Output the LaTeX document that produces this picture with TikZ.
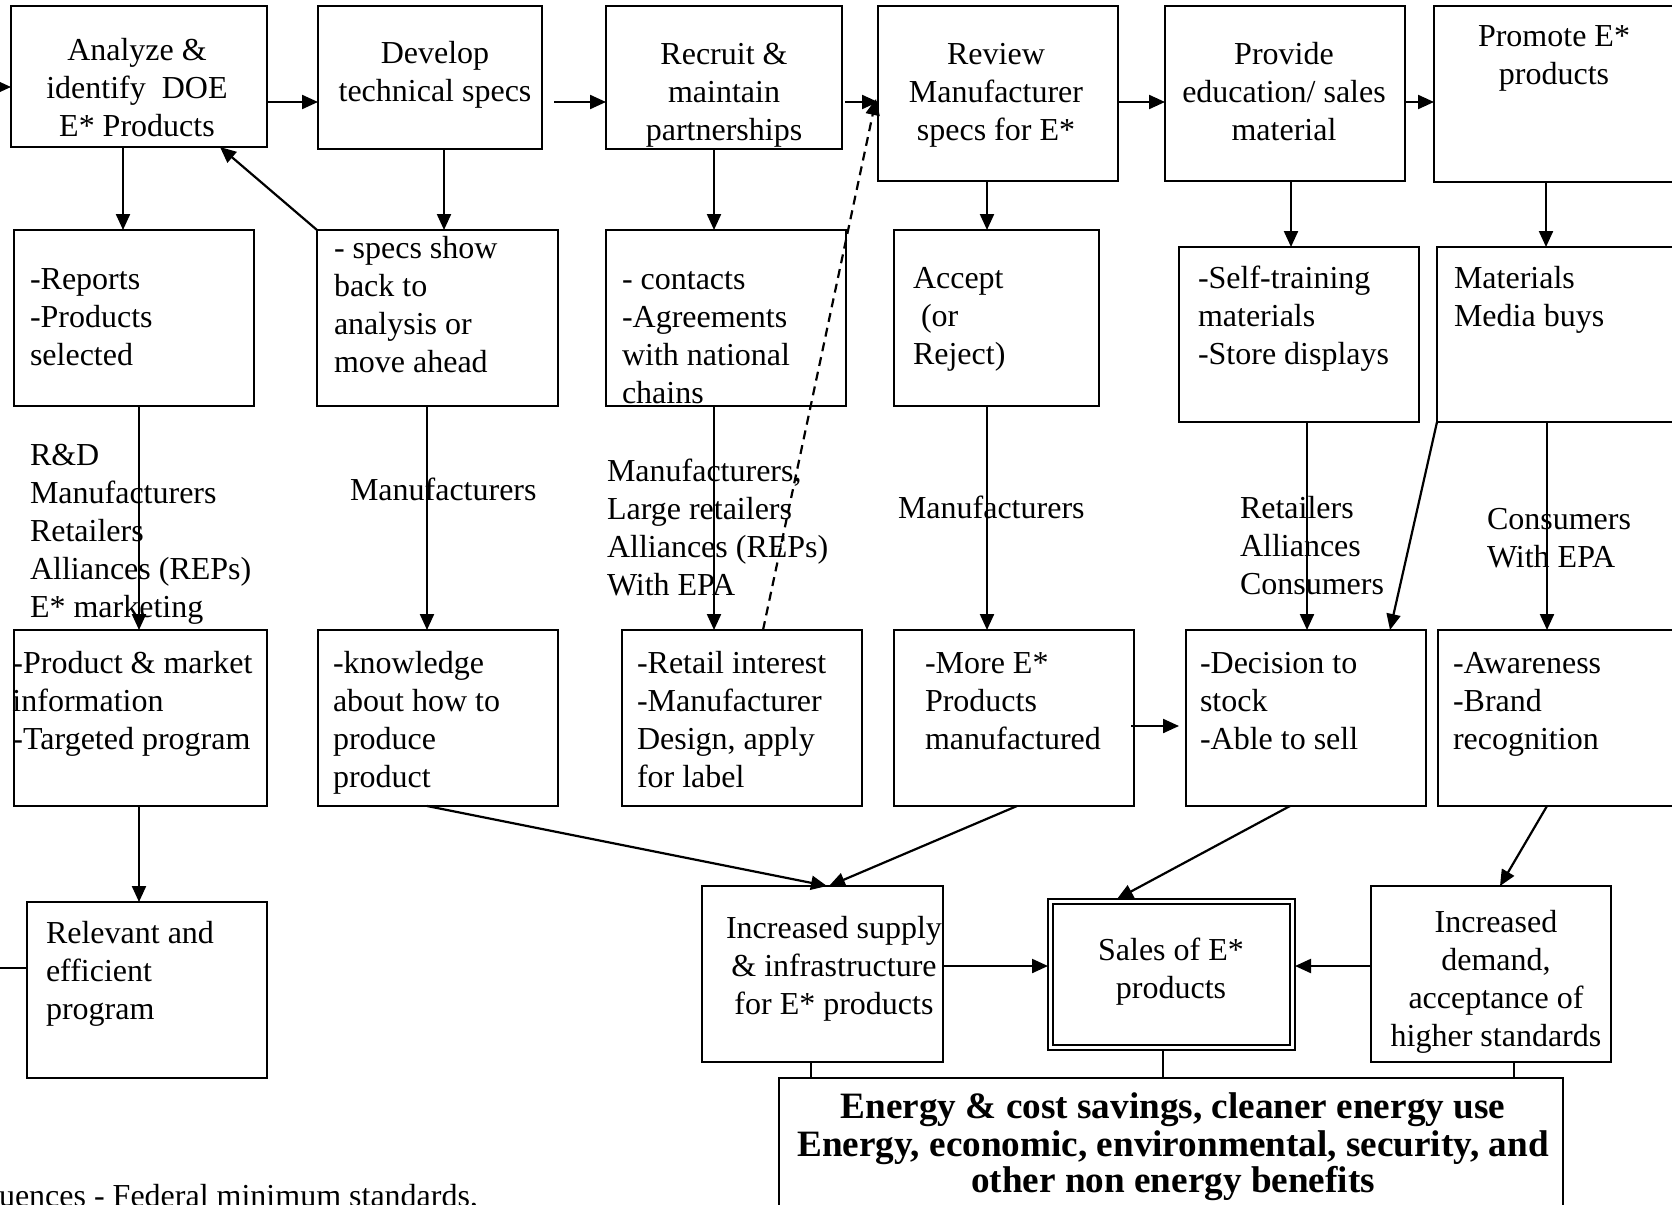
\documentclass[tikz,border=0pt]{standalone}
\usepackage{fontspec}
\setmainfont{Liberation Serif}
\usetikzlibrary{arrows.meta,calc}
\newcommand\fs{\fontsize{32}{38}\selectfont}
\newcommand\fb{\fontsize{37.2}{35.7}\selectfont\bfseries}
% box from top-left (x1,y1) to bottom-right (x2,y2), y grows downwards
\newcommand\boxat[6][]{\node[box,#1,minimum width={#5-#3},minimum height={#6-#4}] (#2) at (#3,#4) {};}
% left-aligned text, first baseline at y
\newcommand\txtL[4]{\node[txt] (#1) at (#2,#3-26.6) {\strut #4};}
% centred text, first baseline at y
\newcommand\txtC[4]{\node[ctxt] (#1) at (#2,#3-26.6) {\strut #4};}
\begin{document}
\begin{tikzpicture}[x=1pt,y=-1pt,
  box/.style={draw,line width=2pt,inner sep=0pt,outer sep=0pt,anchor=north west},
  txt/.style={inner sep=0pt,outer sep=0pt,font=\fs,align=left,anchor=north west},
  ctxt/.style={inner sep=0pt,outer sep=0pt,font=\fs,align=center,anchor=north},
  arr/.style={line width=2.2pt,-{Triangle[length=16pt,width=14pt]}},
  link/.style={line width=2pt},
  dash line/.style={dash pattern=on 9pt off 6pt}
]
\useasboundingbox (0,0) rectangle (1672,1204);
\clip (0,0) rectangle (1672,1204);

% ---------- top row: programme steps ----------
\boxat{analyze}{11}{6}{267}{147}
\boxat{develop}{318}{6}{542}{149}
\boxat{recruit}{606}{6}{842}{149}
\boxat{review}{878}{6}{1118}{181}
\boxat{provide}{1165}{6}{1405}{181}
\boxat{promote}{1434}{6}{1676}{182}

\txtC{tAnalyze}{137}{60}{Analyze \&\\identify\ \ DOE\\E* Products}
\txtC{tDevelop}{435}{64}{Develop\\technical specs}
\txtC{tRecruit}{724}{64}{Recruit \&\\maintain\\partnerships}
\txtC{tReview}{996}{64}{Review\\Manufacturer\\specs for E*}
\txtC{tProvide}{1284}{64}{Provide\\education/ sales\\material}
\txtC{tPromote}{1554}{47}{Promote E*\\products}

% ---------- second row: outputs ----------
\boxat{reports}{14}{230}{254}{406}
\boxat{specs}{317}{230}{558}{406}
\boxat{contacts}{606}{230}{846}{406}
\boxat{accept}{894}{230}{1099}{406}
\boxat{selftrain}{1179}{247}{1419}{422}
\boxat{materials}{1437}{247}{1678}{422}

\txtL{tReports}{30}{289}{-Reports\\-Products\\selected}
\txtL{tSpecs}{334}{258}{- specs show\\back to\\analysis or\\move ahead}
\txtL{tContacts}{622}{289}{- contacts\\-Agreements\\with national\\chains}
\txtL{tAccept}{913}{288}{Accept\\\ (or\\Reject)}
\txtL{tSelf}{1198}{288}{-Self-training\\materials\\-Store displays}
\txtL{tMaterials}{1454}{288}{Materials\\Media buys}

% ---------- audiences ----------
\txtL{aReports}{30}{465}{R\&D\\Manufacturers\\Retailers\\Alliances (REPs)\\E* marketing}
\txtL{aSpecs}{350}{500}{Manufacturers}
\txtL{aContacts}{607}{481}{Manufacturers,\\Large retailers\\Alliances (REPs)\\With EPA}
\txtL{aAccept}{898}{518}{Manufacturers}
\txtL{aSelf}{1240}{518}{Retailers\\Alliances\\Consumers}
\txtL{aMaterials}{1487}{529}{Consumers\\With EPA}

% ---------- third row: short-term outcomes ----------
\boxat{prodmkt}{14}{630}{267}{806}
\boxat{knowledge}{318}{630}{558}{806}
\boxat{retail}{622}{630}{862}{806}
\boxat{moreE}{894}{630}{1134}{806}
\boxat{decision}{1186}{630}{1426}{806}
\boxat{awareness}{1438}{630}{1678}{806}

\txtL{tProdmkt}{12.5}{673}{-Product \& market\\information\\-Targeted program}
\txtL{tKnowledge}{333}{673}{-knowledge\\about how to\\produce\\product}
\txtL{tRetail}{637}{673}{-Retail interest\\-Manufacturer\\Design, apply\\for label}
\txtL{tMoreE}{925}{673}{-More E*\\Products\\manufactured}
\txtL{tDecision}{1200}{673}{-Decision to\\stock\\-Able to sell}
\txtL{tAwareness}{1453}{673}{-Awareness\\-Brand\\recognition}

% ---------- fourth row: intermediate outcomes ----------
\boxat{relevant}{27}{902}{267}{1078}
\boxat{supply}{702}{886}{943}{1062}
\boxat[line width=1.6pt]{sales}{1048}{899}{1295}{1050}
\boxat[line width=2.8pt]{salesin}{1053}{904}{1290}{1045}
\boxat{demand}{1371}{886}{1611}{1062}
\boxat{energy}{779}{1078}{1563}{1230}

\txtL{tRelevant}{46}{943}{Relevant and\\efficient\\program}
\txtC{tSupply}{834}{938}{Increased supply\\\& infrastructure\\for E* products}
\txtC{tSales}{1171}{960}{Sales of E*\\products}
\txtC{tDemand}{1496}{932}{Increased\\demand,\\acceptance of\\higher standards}
\node[ctxt,font=\fb] (tEnergy) at (1173,1118-25) {\strut Energy \& cost savings, cleaner energy use\\Energy, economic, environmental, security, and\\other non energy benefits};

\node[txt,anchor=base west] (fedstd) at (-1,1206) {uences - Federal minimum standards,};

% ---------- connectors ----------
\coordinate (inA) at (-10,87);
\coordinate (inR) at (-10,968);
\draw[arr] (inA) -- (analyze.west |- inA);
\draw[link] (inR) -- (relevant.west |- inR);

% along the top row
\draw[arr] (analyze.east |- 0,102) -- (develop.west |- 0,102);
\draw[arr] ($(develop.east |- 0,102)+(12,0)$) -- (recruit.west |- 0,102);
\draw[arr] ($(recruit.east |- 0,102)+(3,0)$) -- (review.west |- 0,102);
\draw[arr] (review.east |- 0,102) -- (provide.west |- 0,102);
\draw[arr] (provide.east |- 0,102) -- (promote.west |- 0,102);

% top row to outputs
\draw[arr] (123,0 |- analyze.south) -- (123,0 |- reports.north);
\draw[arr] (444,0 |- develop.south) -- (444,0 |- specs.north);
\draw[arr] (714,0 |- recruit.south) -- (714,0 |- contacts.north);
\draw[arr] (987,0 |- review.south) -- (987,0 |- accept.north);
\draw[arr] (1291,0 |- provide.south) -- (1291,0 |- selftrain.north);
\draw[arr] (1546,0 |- promote.south) -- (1546,0 |- materials.north);
\draw[arr] (specs.north west) -- (220,0 |- analyze.south);

% outputs to short-term outcomes
\draw[arr] (139,0 |- reports.south) -- (139,0 |- prodmkt.north);
\draw[arr] (427,0 |- specs.south) -- (427,0 |- knowledge.north);
\draw[arr] (714,0 |- contacts.south) -- (714,0 |- retail.north);
\draw[arr] (987,0 |- accept.south) -- (987,0 |- moreE.north);
\draw[arr] (1307,0 |- selftrain.south) -- (1307,0 |- decision.north);
\draw[arr] (1547,0 |- materials.south) -- (1547,0 |- awareness.north);
\draw[arr] (materials.south west) -- (1390,0 |- decision.north);
\draw[arr,dash line] (763,0 |- retail.north) -- ($(review.west |- 0,99)+(-2,0)$);

% short-term to intermediate outcomes
\draw[arr] ($(moreE.east |- 0,726)+(-3,0)$) -- ($(decision.west |- 0,726)+(-7,0)$);
\draw[arr] (139,0 |- prodmkt.south) -- (139,0 |- relevant.north);
\draw[arr] (427,0 |- knowledge.south) -- (827,0 |- supply.north);
\draw[arr] (1017,0 |- moreE.south) -- (829,0 |- supply.north);
\draw[arr] (1290,0 |- decision.south) -- (1117,0 |- sales.north);
\draw[arr] (1547,0 |- awareness.south) -- (1500,0 |- demand.north);
\draw[arr] (supply.east |- 0,966) -- (sales.west |- 0,966);
\draw[arr] (demand.west |- 0,966) -- (sales.east |- 0,966);

% into the long-term outcomes
\draw[link] (811,0 |- supply.south) -- (811,0 |- energy.north);
\draw[link] (1163,0 |- sales.south) -- (1163,0 |- energy.north);
\draw[link] (1514,0 |- demand.south) -- (1514,0 |- energy.north);
\end{tikzpicture}
\end{document}
